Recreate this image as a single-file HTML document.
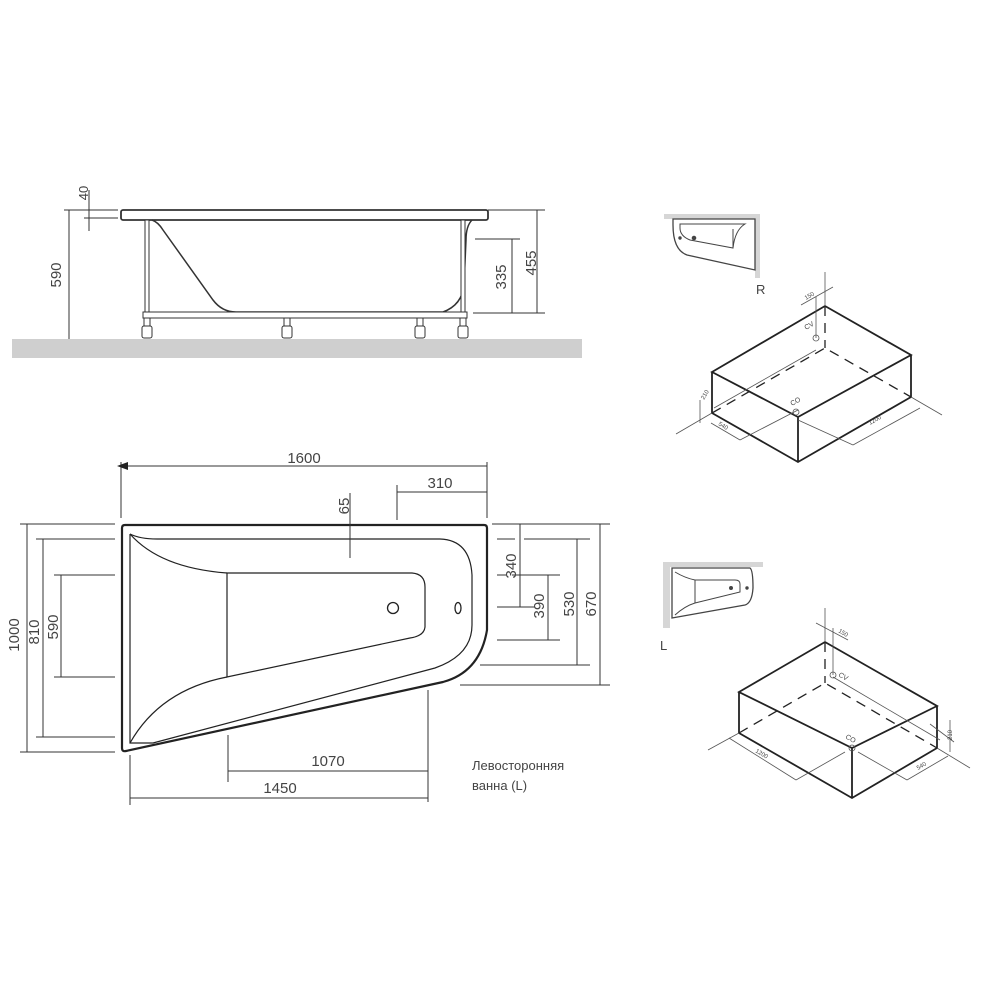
<!DOCTYPE html>
<html><head><meta charset="utf-8"><style>
html,body{margin:0;padding:0;background:#fff;}
svg{display:block;}
text{font-family:"Liberation Sans",sans-serif;fill:#444;}
</style></head><body>
<svg width="981" height="981" viewBox="0 0 981 981" xmlns="http://www.w3.org/2000/svg">
<!-- ===== SIDE VIEW ===== -->
<rect x="12" y="339" width="570" height="19" fill="#cfcfcf"/>
<g stroke="#333" fill="none" stroke-width="1">
  <rect x="121" y="210" width="367" height="10" rx="2" fill="#fff" stroke-width="1.8"/>
  <path d="M152 220 Q158 222 163 230 L213 300 Q222 312 236 312 L443 312 Q462 305 464 285 L466 240 Q466 226 472 220" stroke-width="1.5"/>
  <rect x="145" y="220" width="4" height="92" fill="#fff"/>
  <rect x="461" y="220" width="4" height="92" fill="#fff"/>
  <rect x="143" y="312" width="324" height="6" fill="#fff"/>
  <!-- legs -->
  <rect x="144" y="318" width="6" height="8" fill="#fff"/>
  <rect x="142" y="326" width="10" height="12" rx="2" fill="#fff"/>
  <rect x="284" y="318" width="6" height="8" fill="#fff"/>
  <rect x="282" y="326" width="10" height="12" rx="2" fill="#fff"/>
  <rect x="417" y="318" width="6" height="8" fill="#fff"/>
  <rect x="415" y="326" width="10" height="12" rx="2" fill="#fff"/>
  <rect x="460" y="318" width="6" height="8" fill="#fff"/>
  <rect x="458" y="326" width="10" height="12" rx="2" fill="#fff"/>
  <!-- dims -->
  <line x1="64" y1="210" x2="118" y2="210"/>
  <line x1="84" y1="218" x2="118" y2="218"/>
  <line x1="69" y1="210" x2="69" y2="339"/>
  <line x1="89" y1="190" x2="89" y2="231"/>
  <line x1="475" y1="239" x2="520" y2="239"/>
  <line x1="473" y1="313" x2="545" y2="313"/>
  <line x1="512" y1="239" x2="512" y2="313"/>
  <line x1="488" y1="210" x2="545" y2="210"/>
  <line x1="537" y1="210" x2="537" y2="313"/>
</g>
<text transform="translate(61,275) rotate(-90)" font-size="15" text-anchor="middle">590</text>
<text transform="translate(88,193) rotate(-90)" font-size="13" text-anchor="middle">40</text>
<text transform="translate(506,277) rotate(-90)" font-size="15" text-anchor="middle">335</text>
<text transform="translate(536,263) rotate(-90)" font-size="15" text-anchor="middle">455</text>

<!-- ===== PLAN VIEW ===== -->
<g stroke="#222" fill="none">
  <path d="M122 528 Q122 525 125 525 L484 525 Q487 525 487 528 L487 630 Q480 672 443 682 L126 751 Q122 752 122 748 Z" stroke-width="2.2"/>
  <path d="M130 534 L130 743 L153 743 L435 668 Q472 655 472 625 L472 575 Q470 540 440 539 L157 539 Q140 539 130 534" stroke-width="1.2"/>
  <path d="M130 534 Q160 568 227 573" stroke-width="1.2"/>
  <path d="M227 573 L412 573 Q425 574 425 587 L425 627 Q424 636 410 638 L227 677 Z" stroke-width="1.2"/>
  <path d="M227 677 Q160 690 130 743" stroke-width="1.2"/>
  <circle cx="393" cy="608" r="5.5" stroke-width="1.3"/>
  <ellipse cx="458" cy="608" rx="3" ry="5.5" stroke-width="1.3"/>
</g>
<g stroke="#333" fill="none" stroke-width="1">
  <line x1="121" y1="466" x2="487" y2="466"/>
  <line x1="121" y1="462" x2="121" y2="518"/>
  <line x1="487" y1="462" x2="487" y2="518"/>
  <line x1="397" y1="492" x2="487" y2="492"/>
  <line x1="397" y1="485" x2="397" y2="520"/>
  <line x1="350" y1="493" x2="350" y2="558"/>
  <line x1="20" y1="524" x2="115" y2="524"/>
  <line x1="20" y1="752" x2="115" y2="752"/>
  <line x1="27" y1="524" x2="27" y2="752"/>
  <line x1="36" y1="539" x2="115" y2="539"/>
  <line x1="36" y1="737" x2="115" y2="737"/>
  <line x1="43" y1="539" x2="43" y2="737"/>
  <line x1="54" y1="575" x2="115" y2="575"/>
  <line x1="54" y1="677" x2="115" y2="677"/>
  <line x1="61" y1="575" x2="61" y2="677"/>
  <line x1="492" y1="524" x2="610" y2="524"/>
  <line x1="497" y1="539" x2="515" y2="539"/>
  <line x1="524" y1="539" x2="590" y2="539"/>
  <line x1="497" y1="575" x2="507" y2="575"/>
  <line x1="512" y1="575" x2="560" y2="575"/>
  <line x1="497" y1="607" x2="535" y2="607"/>
  <line x1="497" y1="640" x2="560" y2="640"/>
  <line x1="480" y1="665" x2="590" y2="665"/>
  <line x1="460" y1="685" x2="610" y2="685"/>
  <line x1="520" y1="524" x2="520" y2="607"/>
  <line x1="548" y1="575" x2="548" y2="640"/>
  <line x1="577" y1="539" x2="577" y2="665"/>
  <line x1="600" y1="524" x2="600" y2="685"/>
  <line x1="228" y1="735" x2="228" y2="782"/>
  <line x1="428" y1="690" x2="428" y2="802"/>
  <line x1="130" y1="755" x2="130" y2="805"/>
  <line x1="228" y1="771" x2="428" y2="771"/>
  <line x1="130" y1="798" x2="428" y2="798"/>
</g>
<path d="M117 466 L128 462 L128 470 Z" fill="#222"/>
<text x="304" y="463" font-size="15" text-anchor="middle">1600</text>
<text x="440" y="488" font-size="15" text-anchor="middle">310</text>
<text transform="translate(349,506) rotate(-90)" font-size="15" text-anchor="middle">65</text>
<text transform="translate(19,635) rotate(-90)" font-size="15" text-anchor="middle">1000</text>
<text transform="translate(39,632) rotate(-90)" font-size="15" text-anchor="middle">810</text>
<text transform="translate(58,627) rotate(-90)" font-size="15" text-anchor="middle">590</text>
<text transform="translate(516,566) rotate(-90)" font-size="15" text-anchor="middle">340</text>
<text transform="translate(544,606) rotate(-90)" font-size="15" text-anchor="middle">390</text>
<text transform="translate(574,604) rotate(-90)" font-size="15" text-anchor="middle">530</text>
<text transform="translate(596,604) rotate(-90)" font-size="15" text-anchor="middle">670</text>
<text x="328" y="766" font-size="15" text-anchor="middle">1070</text>
<text x="280" y="793" font-size="15" text-anchor="middle">1450</text>
<text x="472" y="770" font-size="13">Левосторонняя</text>
<text x="472" y="790" font-size="13">ванна (L)</text>

<!-- ===== R ICON ===== -->
<rect x="664" y="214" width="96" height="5" fill="#d6d6d6"/>
<rect x="755" y="214" width="5" height="64" fill="#d6d6d6"/>
<g stroke="#444" fill="none" stroke-width="1">
  <path d="M673 219 L755 219 L755 270 L687 255 Q673 250 673 225 Z" stroke-width="1.3"/>
  <path d="M680 224 L745 224 Q735 230 733 248 L690 240 Q680 236 680 228 Z"/>
  <line x1="733" y1="229" x2="733" y2="248"/>
  <circle cx="680" cy="238" r="1.2" fill="#444"/>
  <circle cx="694" cy="238" r="1.8" fill="#444"/>
</g>
<text x="756" y="294" font-size="13">R</text>

<!-- ===== R BOX ===== -->
<g stroke="#222" fill="none">
  <path d="M712 372 L825 306 L911 355 L798 417 Z M712 372 L712 413 L798 462 L911 397 L911 355 M798 417 L798 462" stroke-width="1.8"/>
  <path d="M712 413 L825 348 L911 397 M825 306 L825 348" stroke-width="1.3" stroke-dasharray="10,7"/>
</g>
<g stroke="#555" fill="none" stroke-width="0.8">
  <line x1="825" y1="272" x2="825" y2="306"/>
  <line x1="801" y1="305" x2="833" y2="287"/>
  <line x1="816" y1="297" x2="816" y2="338"/>
  <line x1="714" y1="408" x2="816" y2="350"/>
  <line x1="676" y1="434" x2="712" y2="413"/>
  <line x1="700" y1="400" x2="700" y2="423"/>
  <line x1="711" y1="423" x2="740" y2="440"/>
  <line x1="740" y1="440" x2="798" y2="410"/>
  <line x1="798" y1="420" x2="853" y2="445"/>
  <line x1="853" y1="445" x2="920" y2="408"/>
  <line x1="911" y1="397" x2="942" y2="415"/>
  <circle cx="816" cy="338" r="3"/>
  <circle cx="796" cy="412" r="3"/>
</g>
<text transform="translate(806,300) rotate(-30)" font-size="6">150</text>
<text transform="translate(806,330) rotate(-30)" font-size="7">CV</text>
<text transform="translate(792,406) rotate(-30)" font-size="7">CO</text>
<text transform="translate(704,400) rotate(-60)" font-size="6">210</text>
<text transform="translate(718,425) rotate(30)" font-size="6">540</text>
<text transform="translate(870,425) rotate(-30)" font-size="6">1200</text>

<!-- ===== L ICON ===== -->
<rect x="663" y="562" width="100" height="5" fill="#d6d6d6"/>
<rect x="663" y="562" width="7" height="66" fill="#d6d6d6"/>
<g stroke="#444" fill="none" stroke-width="1">
  <path d="M672 568 L750 568 Q753 570 753 588 Q752 603 745 605 L672 618 Z" stroke-width="1.3"/>
  <path d="M675 572 Q685 578 695 580 L735 580 Q740 580 740 584 L740 592 L695 603 Q685 606 675 615"/>
  <line x1="695" y1="580" x2="695" y2="603"/>
  <circle cx="731" cy="588" r="1.5" fill="#444"/>
  <circle cx="747" cy="588" r="1.2" fill="#444"/>
</g>
<text x="660" y="650" font-size="13">L</text>

<!-- ===== L BOX ===== -->
<g stroke="#222" fill="none">
  <path d="M739 692 L825 642 L937 706 L852 748 Z M739 692 L739 733 L852 798 L937 748 L937 706 M852 748 L852 798" stroke-width="1.8"/>
  <path d="M739 733 L825 683 L937 748 M825 642 L825 683" stroke-width="1.3" stroke-dasharray="10,7"/>
</g>
<g stroke="#555" fill="none" stroke-width="0.8">
  <line x1="825" y1="608" x2="825" y2="642"/>
  <line x1="816" y1="623" x2="848" y2="640"/>
  <line x1="833" y1="628" x2="833" y2="675"/>
  <line x1="833" y1="677" x2="940" y2="740"/>
  <line x1="937" y1="748" x2="970" y2="768"/>
  <line x1="708" y1="750" x2="739" y2="733"/>
  <line x1="930" y1="724" x2="954" y2="742"/>
  <line x1="950" y1="720" x2="950" y2="752"/>
  <line x1="729" y1="738" x2="796" y2="780"/>
  <line x1="796" y1="780" x2="845" y2="752"/>
  <line x1="858" y1="752" x2="907" y2="780"/>
  <line x1="907" y1="780" x2="948" y2="756"/>
  <circle cx="833" cy="675" r="3"/>
  <circle cx="852" cy="748" r="3"/>
</g>
<text transform="translate(838,632) rotate(30)" font-size="6">150</text>
<text transform="translate(838,676) rotate(30)" font-size="7">CV</text>
<text transform="translate(845,738) rotate(30)" font-size="7">CO</text>
<text transform="translate(952,740) rotate(-90)" font-size="6">210</text>
<text transform="translate(755,752) rotate(30)" font-size="6">1200</text>
<text transform="translate(918,770) rotate(-30)" font-size="6">540</text>
</svg>
</body></html>
